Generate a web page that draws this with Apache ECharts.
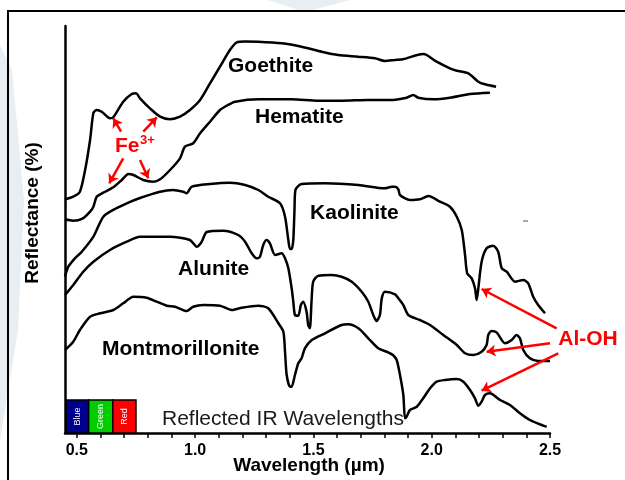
<!DOCTYPE html>
<html>
<head>
<meta charset="utf-8">
<script src="https://cdn.jsdelivr.net/npm/echarts/dist/echarts.min.js"></script>
<style>
html,body{margin:0;padding:0;background:#fff;}
#c{width:625px;height:480px;}
</style>
</head>
<body>
<div id="c"></div>
<script>
// Wavelength (µm) vs relative reflectance (offset, arbitrary units)
const goethite = [[0.450,233.7],[0.485,236.3],[0.513,241.3],[0.535,263],[0.556,293],[0.570,320],[0.584,323],[0.605,321.3],[0.640,314.7],[0.654,315.7],[0.696,331.3],[0.732,339],[0.750,339.7],[0.767,334.7],[0.809,324.7],[0.852,316.3],[0.894,313.7],[0.936,316.3],[0.978,323],[1.021,333],[1.063,349.7],[1.105,366.3],[1.147,383],[1.176,390.7],[1.211,391.5],[1.266,391.3],[1.366,389.7],[1.450,386.3],[1.535,381.3],[1.604,378],[1.688,376.3],[1.760,374.7],[1.802,372],[1.845,373],[1.879,373.7],[1.963,379],[1.979,378],[2.021,371.3],[2.077,364.7],[2.106,362.3],[2.155,359.7],[2.197,351.3],[2.225,348.7],[2.272,346.3]];
const hematite = [[0.450,213.7],[0.484,212.3],[0.526,214.7],[0.556,221.3],[0.570,226.3],[0.584,236.3],[0.612,240.3],[0.654,245.7],[0.690,253],[0.718,259],[0.739,258],[0.781,253],[0.823,251.3],[0.852,253.7],[0.894,263],[0.936,274.7],[0.957,286.3],[0.992,289.7],[1.021,299.7],[1.063,311.3],[1.105,323],[1.139,328],[1.169,331.3],[1.267,333.7],[1.408,333.7],[1.521,332.3],[1.619,332.3],[1.732,333],[1.824,333],[1.894,335.3],[1.922,338],[1.943,335.3],[2.007,333.7],[2.077,335.3],[2.162,339],[2.246,340.3]];
const kaolinite = [[0.450,156.3],[0.464,166.3],[0.492,174.7],[0.521,181.3],[0.570,196.3],[0.612,216.3],[0.661,224],[0.711,229.7],[0.767,235],[0.852,241.3],[0.906,243],[0.949,241.3],[0.964,239.7],[0.986,246.3],[1.063,249],[1.147,250.3],[1.211,248],[1.267,243],[1.309,236.3],[1.359,229.7],[1.380,216.3],[1.394,193],[1.401,184],[1.408,184],[1.415,193],[1.420,223],[1.424,243],[1.450,249],[1.549,249.7],[1.690,248],[1.802,244.7],[1.832,246.3],[1.845,246.3],[1.859,243.7],[1.866,238],[1.908,233],[1.950,233.7],[1.986,237],[2.035,231.3],[2.077,226.3],[2.106,216.3],[2.127,203],[2.141,178],[2.150,159.7],[2.169,154.7],[2.183,144.7],[2.190,133],[2.197,144.7],[2.211,171.3],[2.232,184.7],[2.260,187.3],[2.281,181.3],[2.296,164.7],[2.317,161.3],[2.352,151.3],[2.387,153],[2.408,149.7],[2.429,136.3],[2.450,128],[2.479,119.7]];
const alunite = [[0.450,138],[0.485,148],[0.527,161.3],[0.570,171.3],[0.640,183],[0.711,191.3],[0.767,196.3],[0.894,196.3],[0.978,193],[1.007,186.3],[1.028,191.3],[1.049,201],[1.118,202.3],[1.182,198],[1.211,191.3],[1.239,179.7],[1.260,174.7],[1.274,176.3],[1.288,188],[1.302,193],[1.316,189.7],[1.338,178],[1.366,179.7],[1.380,174.7],[1.394,164.7],[1.408,144.7],[1.415,131.3],[1.422,118],[1.436,117.3],[1.447,128],[1.457,131.3],[1.471,121.3],[1.478,108],[1.485,104.7],[1.492,131.3],[1.499,151.3],[1.521,157.3],[1.577,158],[1.619,156.3],[1.662,151.3],[1.704,141.3],[1.732,131.3],[1.753,118],[1.767,112],[1.781,118],[1.789,134.7],[1.802,141.3],[1.845,138.7],[1.859,134.7],[1.880,128],[1.901,118],[1.950,113],[1.993,108],[2.049,98],[2.106,88],[2.141,79.7],[2.176,78],[2.211,81.3],[2.232,88],[2.239,98],[2.253,102],[2.274,100.7],[2.310,89.7],[2.338,93],[2.359,98],[2.373,94.7],[2.387,83],[2.415,74.7],[2.450,72],[2.500,72]];
const montmorillonite = [[0.450,83],[0.485,91.3],[0.513,103],[0.556,116.3],[0.598,119.7],[0.654,123],[0.696,129.7],[0.739,136.3],[0.795,135.3],[0.838,131.3],[0.880,127.3],[0.915,126.3],[0.964,122],[0.992,126.3],[1.035,128],[1.105,127.3],[1.155,123],[1.197,125.3],[1.267,127.3],[1.309,124.7],[1.352,109.7],[1.373,101.3],[1.380,81.3],[1.387,58],[1.401,46.3],[1.408,46.3],[1.422,58],[1.436,69.7],[1.450,74.7],[1.464,84.7],[1.493,93],[1.549,99.7],[1.619,108],[1.647,108.7],[1.690,104.7],[1.732,94.7],[1.774,84.7],[1.816,80.7],[1.836,78],[1.852,73],[1.866,58],[1.880,38],[1.887,14.7],[1.894,16.3],[1.908,23],[1.937,26.3],[1.964,34.7],[1.993,44.7],[2.021,51.3],[2.056,53],[2.106,54],[2.134,51.3],[2.162,43],[2.183,34.7],[2.197,27.3],[2.211,31.3],[2.225,38],[2.246,39.7],[2.289,33],[2.331,28],[2.373,19.7],[2.415,13],[2.472,7.3],[2.486,6.3]];

const xTickValues = [0.5,0.6,0.7,0.8,0.9,1.0,1.1,1.2,1.3,1.4,1.5,1.6,1.7,1.8,1.9,2.0,2.1,2.2,2.3,2.4,2.5];
const xLabelValues = [0.5,1.0,1.5,2.0,2.5];

// visible bands box
const bandNames = ['Blue','Green','Red'];
const bandStart = [0.455,0.550,0.652];
const bandEnd = [0.550,0.652,0.750];
const bandColors = ['#00008f','#00cc00','#ff0000'];
const bandTop = 33;

// annotation arrows [from, to] in data units
const feArrows = [
  [[0.687,301.3],[0.654,314.7]],
  [[0.781,301.3],[0.838,315.7]],
  [[0.696,274.7],[0.637,249.7]],
  [[0.767,273],[0.802,254.7]]
];
const alohArrows = [
  [[2.528,104.7],[2.211,144]],
  [[2.500,89.7],[2.232,81.3]],
  [[2.535,79.7],[2.211,42.3]]
];

const curveNames = ['Goethite','Hematite','Kaolinite','Alunite','Montmorillonite'];
const curveData = [goethite, hematite, kaolinite, alunite, montmorillonite];
const labelAt = [[1.139,367],[1.253,316],[1.486,220],[0.928,164],[0.606,84]];

const FONT = '"Liberation Sans", Arial, Helvetica, sans-serif';
const chart = echarts.init(document.getElementById('c'), null, {renderer:'canvas'});

const series = curveNames.map((n,i)=>({
  name:n, type:'line', data:curveData[i], showSymbol:false, smooth:0.25,
  lineStyle:{color:'#000', width:2.5}, z:3, silent:true
}));

series.push({
  type:'custom', name:'bands', z:4,
  data: bandStart.map((s,i)=>[s, bandEnd[i], i]),
  encode:{x:[0,1]},
  renderItem:function(params, api){
    const i = api.value(2);
    const p0 = api.coord([api.value(0), bandTop]);
    const p1 = api.coord([api.value(1), 0]);
    return {type:'group', children:[
      {type:'rect', shape:{x:p0[0], y:p0[1], width:p1[0]-p0[0], height:p1[1]-p0[1]},
       style:{fill:bandColors[i], stroke:'#000', lineWidth:1.5}},
      {type:'text', x:(p0[0]+p1[0])/2, y:(p0[1]+p1[1])/2, rotation:Math.PI/2,
       style:{text:bandNames[i], fill:'#fff', fontSize:9, fontFamily:FONT, align:'center', verticalAlign:'middle'}}
    ]};
  }
});

series.push({
  type:'lines', coordinateSystem:'cartesian2d', z:5, clip:false, silent:true,
  symbol:['none','arrow'], symbolSize:9,
  lineStyle:{color:'#ff0000', width:2.5, opacity:1},
  data: feArrows.concat(alohArrows).map(a=>({coords:a}))
});

chart.setOption({
  animation:false,
  backgroundColor:'#fff',
  grid:{left:65, right:75, top:26, bottom:47, containLabel:false, outerBoundsMode:'none'},
  xAxis:{
    type:'value', min:0.45, max:2.5,
    axisLine:{show:true, lineStyle:{color:'#000', width:2.5}},
    axisTick:{show:true, customValues:xTickValues, length:5, inside:false, lineStyle:{color:'#000', width:1.5}},
    axisLabel:{show:true, customValues:xLabelValues, margin:10, formatter:v=>v.toFixed(1),
      color:'#000', fontWeight:'bold', fontSize:16, fontFamily:FONT},
    splitLine:{show:false}
  },
  yAxis:{
    type:'value', min:0, max:407,
    axisLine:{show:true, lineStyle:{color:'#000', width:2.5}},
    axisTick:{show:false}, axisLabel:{show:false}, splitLine:{show:false}
  },
  series:series
});

function px(p){ return chart.convertToPixel({gridIndex:0}, p); }
const g = [];
// faint background watermark shapes
g.push({type:'polygon', z:-10, shape:{points:[[0,45],[12,70],[24,200],[18,330],[0,440]]}, style:{fill:'#e8eef1'}});
g.push({type:'polygon', z:-10, shape:{points:[[268,0],[350,0],[305,12]]}, style:{fill:'#e8eef1'}});
// frame
g.push({type:'rect', z:1, shape:{x:8, y:11, width:700, height:600}, style:{fill:null, stroke:'#000', lineWidth:2}});
// axis titles
g.push({type:'text', x:33, y:213, rotation:Math.PI/2, z:10,
  style:{text:'Reflectance (%)', fill:'#000', font:'bold 19px '+FONT, align:'center', verticalAlign:'middle'}});
g.push({type:'text', x:309, y:466, z:10,
  style:{text:'Wavelength (µm)', fill:'#000', font:'bold 19px '+FONT, align:'center', verticalAlign:'middle'}});
// mineral labels
curveNames.forEach((n,i)=>{
  const p = px(labelAt[i]);
  g.push({type:'text', x:p[0], y:p[1], z:10,
    style:{text:n, fill:'#000', font:'bold 21px '+FONT, align:'left', verticalAlign:'middle'}});
});
// Fe3+
const fe = px([0.661,287]);
g.push({type:'text', x:fe[0], y:fe[1], z:10, style:{text:'Fe', fill:'#ff0000', font:'bold 21px '+FONT, align:'left', verticalAlign:'middle'}});
const sup = px([0.767,293]);
g.push({type:'text', x:sup[0], y:sup[1], z:10, style:{text:'3+', fill:'#ff0000', font:'bold 13px '+FONT, align:'left', verticalAlign:'middle'}});
// Al-OH
const al = px([2.535,94]);
g.push({type:'text', x:al[0], y:al[1], z:10, style:{text:'Al-OH', fill:'#ff0000', font:'bold 21px '+FONT, align:'left', verticalAlign:'middle'}});
// Reflected IR Wavelengths
const ir = px([0.86,14]);
g.push({type:'text', x:ir[0], y:ir[1], z:10, style:{text:'Reflected IR Wavelengths', fill:'#1a1a1a', font:'21px '+FONT, align:'left', verticalAlign:'middle'}});
// tiny dash
g.push({type:'line', shape:{x1:523, y1:221, x2:528, y2:221}, style:{stroke:'#555', lineWidth:1}});

chart.setOption({graphic:g});
</script>
</body>
</html>
